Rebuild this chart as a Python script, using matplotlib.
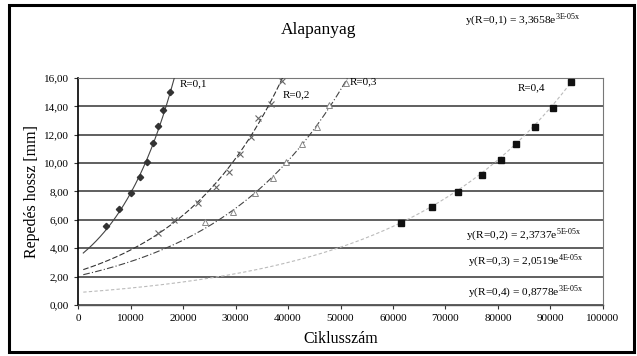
import matplotlib.pyplot as plt
import matplotlib.patches as patches
import numpy as np

r01_x = [5333, 7810, 10095, 11810, 13143, 14286, 15238, 16190, 17524]
r01_y = [5.57, 6.77, 7.89, 9.02, 10.08, 11.42, 12.61, 13.74, 15.01]

r02_x = [15238, 18286, 22857, 26286, 28762, 30857, 32952, 34286, 36762, 38857]
r02_y = [5.07, 5.99, 7.19, 8.32, 9.37, 10.64, 11.84, 13.18, 14.17, 15.79]

r03_x = [24190, 29524, 33714, 37143, 39619, 42667, 45524, 47810, 51048]
r03_y = [5.85, 6.55, 7.89, 8.95, 10.08, 11.35, 12.54, 14.09, 15.64]

r04_x = [61467, 67371, 72438, 77010, 80514, 83429, 87048, 90419, 93905]
r04_y = [5.76, 6.93, 7.94, 9.16, 10.22, 11.34, 12.52, 13.86, 15.70]

# exponential trendlines y = a*exp(b*x), a from the printed equations
trend_a = [3.3658, 2.3737, 2.0519, 0.8778]
trend_b = [8.5e-05, 4.9e-05, 4.0e-05, 3.07e-05]

series_names = ['R=0,1', 'R=0,2', 'R=0,3', 'R=0,4']
eq_labels = [r'y(R=0,1) = 3,3658e$^{\mathrm{3E\text{-}05x}}$',
             r'y(R=0,2) = 2,3737e$^{\mathrm{5E\text{-}05x}}$',
             r'y(R=0,3) = 2,0519e$^{\mathrm{4E\text{-}05x}}$',
             r'y(R=0,4) = 0,8778e$^{\mathrm{3E\text{-}05x}}$']

plt.rcParams['font.family'] = ['Liberation Serif', 'DejaVu Serif']
plt.rcParams['mathtext.fontset'] = 'custom'
plt.rcParams['mathtext.rm'] = 'Liberation Serif'

fig = plt.figure(figsize=(6.37, 3.56), dpi=100)
ax = fig.add_axes([0.1225, 0.1433, 0.8241, 0.6376])

fig.patches.append(patches.Rectangle((0.014, 0.012), 0.982, 0.975, transform=fig.transFigure,
                                     fill=False, edgecolor='black', linewidth=2.2))

xs = np.linspace(1000, 100000, 400)
line_styles = ['-', (0, (5, 2)), (0, (6, 2, 1, 2)), (0, (3, 2))]
line_colors = ['#444444', '#333333', '#444444', '#bbbbbb']
for a, b, ls, c in zip(trend_a, trend_b, line_styles, line_colors):
    ax.plot(xs, a * np.exp(b * xs), color=c, linestyle=ls, linewidth=0.8, zorder=3)

ax.plot(r01_x, r01_y, linestyle='none', marker='D', markersize=3.2, color='#333333', zorder=4)
ax.plot(r02_x, r02_y, linestyle='none', marker='x', markersize=3.8, color='#666666', markeredgewidth=0.8, zorder=4)
ax.plot(r03_x, r03_y, linestyle='none', marker='^', markersize=3.8, markerfacecolor='white',
        markeredgecolor='#888888', markeredgewidth=0.7, zorder=4)
ax.plot(r04_x, r04_y, linestyle='none', marker='s', markersize=3.8, color='#111111', zorder=4)

ax.set_xlim(0, 100000)
ax.set_ylim(0, 16)
ax.set_yticks(np.arange(0, 17, 2))
ax.set_yticklabels([('%.2f' % v).replace('.', ',') for v in np.arange(0, 17, 2)])
ax.set_xticks(np.arange(0, 100001, 10000))
ax.set_xticklabels([str(v) for v in range(0, 100001, 10000)])
ax.tick_params(axis='both', labelsize=8, length=3, width=0.8, color='#333333')
ax.grid(axis='y', color='#444444', linewidth=1.2)
ax.set_axisbelow(True)
for side in ['top', 'right']:
    ax.spines[side].set_color('#777777')
    ax.spines[side].set_linewidth(0.8)
ax.spines['left'].set_linewidth(1.2)
ax.spines['bottom'].set_linewidth(1.0)
ax.spines['bottom'].set_color('#555555')

ax.set_ylabel('Repedés hossz [mm]', fontsize=11.5, labelpad=3)
ax.set_xlabel('Ciklusszám', fontsize=11.5, labelpad=6)
fig.text(0.50, 0.915, 'Alapanyag', fontsize=12.5, ha='center', va='center')

ax.text(19400, 15.6, series_names[0], fontsize=8, va='center')
ax.text(38900, 14.85, series_names[1], fontsize=8, va='center')
ax.text(51800, 15.7, series_names[2], fontsize=8, va='center')
ax.text(83800, 15.3, series_names[3], fontsize=8, va='center')

fig.text(0.730, 0.945, eq_labels[0], fontsize=8.2, va='center')
ax.text(74000, 4.95, eq_labels[1], fontsize=8.2, va='center')
ax.text(74300, 3.15, eq_labels[2], fontsize=8.2, va='center')
ax.text(74300, 0.95, eq_labels[3], fontsize=8.2, va='center')

plt.savefig('out.png', dpi=100)
